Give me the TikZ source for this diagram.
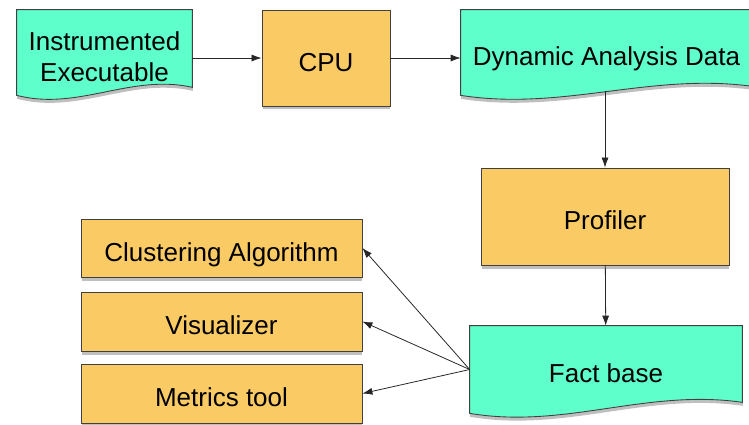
\documentclass[tikz,border=0pt]{standalone}
\usepackage{fontspec}
\setmainfont{Liberation Sans}
\usetikzlibrary{calc,shadows,backgrounds,arrows.meta}
\def\docshape[#1](#2)(#3){\draw[#1] (#2.north west) -- (#2.north east) -- ($(#2.south east)+(0,-#3)$) .. controls ($(#2.south east)!0.35!(#2.south west)+(0,-#3-14)$) and ($(#2.south west)!0.35!(#2.south east)+(0,16)$) .. (#2.south west) -- cycle;}
\definecolor{dataaqua}{HTML}{5EFFCB}
\definecolor{toolorange}{HTML}{FACB64}

\begin{document}
\begin{tikzpicture}[x=0.02cm, y=-0.02cm,
  every node/.style={font=\fontsize{14.8}{17.6}\selectfont, align=center, inner sep=0pt, text height=0.67cm, text depth=0.15cm},
  tool/.style={draw=black!75, line width=0.5pt, fill=toolorange, drop shadow={opacity=0.5, shadow xshift=0.01cm, shadow yshift=-0.07cm}},
  data/.style={draw=none},
  datafill/.style={draw=black!75, line width=0.5pt, fill=dataaqua, drop shadow={opacity=0.5, shadow xshift=0.01cm, shadow yshift=-0.07cm}},
  flow/.style={-{Latex[length=0.2cm,width=0.14cm]}, line width=0.45pt, black!85}]
			%%%%% START %%%%%
			\useasboundingbox (0,0) rectangle (749,424);
			
			\node[data, minimum width=3.5cm, minimum height=1.7cm, text height=1.175cm, text depth=0cm] (instr) at (104.5, 52.5) {Instrumented\\Executable};
			\node[tool, minimum width=2.56cm, minimum height=1.92cm] (cpu) at (326, 58) {CPU};
			\node[data, minimum width=5.82cm, minimum height=1.7cm] (dad) at (606.5, 52.5) {Dynamic Analysis Data};
			
			\node[tool, minimum width=4.96cm, minimum height=1.94cm] (profiler) at (605, 216.5) {Profiler};
			\node[data, minimum width=5.44cm, minimum height=1.74cm] (fact) at (606, 369.5) {Fact base};
			
			\node[tool, minimum width=5.62cm, minimum height=1.16cm] (clustering) at (221.5, 248) {Clustering Algorithm};
			\node[tool, minimum width=5.62cm, minimum height=1.18cm] (visualizer) at (221.5, 321.5) {Visualizer};
			\node[tool, minimum width=5.62cm, minimum height=1.18cm] (metrics) at (221.5, 393.5) {Metrics tool};
			
			\begin{scope}[on background layer]
				\docshape[datafill](instr)(8)
				\docshape[datafill](dad)(9)
				\docshape[datafill](fact)(11)
			\end{scope}
			
			\draw[flow] (instr.east |- cpu.west) -- (cpu.west);
			\draw[flow] (cpu.east) -- (dad.west |- cpu.east);
			\draw[flow] ($(profiler.north |- dad.south)+(0,-4)$) -- (profiler.north);
			\draw[flow] (profiler) -- (fact);
			
			\draw[flow] (fact.west) -- (clustering.east);
			\draw[flow] (fact.west) -- (visualizer.east);
			\draw[flow] (fact.west) -- (metrics.east);
			%%%%% END %%%%%
\end{tikzpicture}
\end{document}
